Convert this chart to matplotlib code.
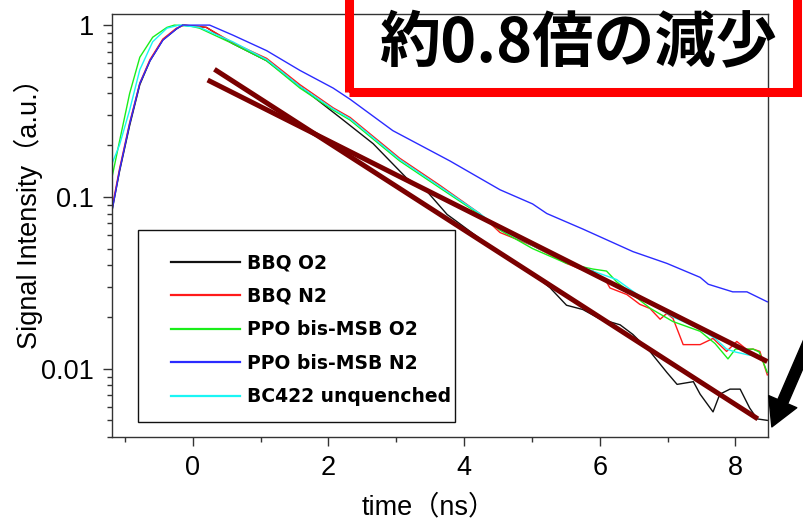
import matplotlib.pyplot as plt
import numpy as np
from matplotlib.patches import Rectangle, FancyArrowPatch
from matplotlib.ticker import LogLocator, NullFormatter

plt.rcParams['font.family'] = ['Liberation Sans', 'Noto Sans CJK JP']

# decay curves (time in ns, intensity normalised)
bbq_o2_t = [-1.19, -1.08, -0.93, -0.78, -0.63, -0.44, -0.24, -0.15, 0.2, 0.59, 1.09, 1.58,
            2.17, 2.66, 3.15, 3.45, 3.75, 3.89, 4.43, 4.72, 5.0, 5.27, 5.51, 5.75, 6.0, 6.3,
            6.49, 6.74, 6.99, 7.14, 7.38, 7.48, 7.67, 7.77, 7.92, 8.07, 8.21, 8.32, 8.47]
bbq_o2_v = [0.083, 0.14, 0.26, 0.45, 0.62, 0.82, 0.95, 1.0, 0.97, 0.78, 0.62, 0.44,
            0.29, 0.204, 0.129, 0.108, 0.079, 0.072, 0.050, 0.042, 0.036, 0.0295, 0.0234, 0.0221, 0.0195, 0.018,
            0.0158, 0.0126, 0.0095, 0.0081, 0.0084, 0.0071, 0.0056, 0.0071, 0.0076, 0.0076, 0.0059, 0.0051, 0.0050]

bbq_n2_t = [-1.19, -1.08, -0.93, -0.78, -0.63, -0.44, -0.24, -0.12, 0.2, 0.59, 1.09, 1.58,
            2.07, 2.32, 3.05, 3.64, 4.23, 4.53, 5.01, 5.27, 5.51, 5.71, 5.9, 6.1, 6.15, 6.4,
            6.59, 6.74, 6.89, 6.99, 7.08, 7.23, 7.48, 7.67, 7.87, 8.02, 8.17, 8.26, 8.36, 8.47]
bbq_n2_v = [0.086, 0.145, 0.27, 0.46, 0.63, 0.83, 0.96, 1.0, 0.97, 0.79, 0.64, 0.45,
            0.33, 0.29, 0.168, 0.117, 0.080, 0.062, 0.052, 0.046, 0.041, 0.038, 0.037, 0.032, 0.0295, 0.027,
            0.0237, 0.0224, 0.0194, 0.021, 0.0196, 0.0138, 0.0138, 0.015, 0.0126, 0.0144, 0.0129, 0.013, 0.0126, 0.0092]

ppo_o2_t = [-1.19, -1.08, -0.93, -0.78, -0.59, -0.38, -0.27, -0.05, 0.1, 0.59, 1.09, 1.58,
            2.07, 2.32, 3.05, 3.64, 4.23, 4.53, 5.01, 5.51, 5.9, 6.1, 6.25, 6.74, 7.08, 7.48,
            7.7, 7.89, 8.0, 8.26, 8.35, 8.47]
ppo_o2_v = [0.13, 0.21, 0.40, 0.65, 0.85, 0.97, 1.0, 0.99, 0.96, 0.78, 0.62, 0.43,
            0.32, 0.28, 0.162, 0.113, 0.079, 0.064, 0.050, 0.041, 0.038, 0.037, 0.032, 0.0225, 0.0188, 0.0165,
            0.014, 0.0114, 0.013, 0.013, 0.0125, 0.0095]

ppo_n2_t = [-1.19, -1.08, -0.93, -0.78, -0.63, -0.44, -0.24, -0.15, 0.25, 0.59, 1.09, 1.58,
            2.07, 2.32, 2.95, 3.79, 4.53, 5.01, 5.22, 5.75, 6.49, 6.99, 7.48, 7.6, 7.96, 8.17, 8.47]
ppo_n2_v = [0.083, 0.142, 0.266, 0.457, 0.62, 0.817, 0.95, 1.0, 1.0, 0.875, 0.71, 0.545,
            0.43, 0.37, 0.243, 0.162, 0.11, 0.091, 0.080, 0.065, 0.048, 0.041, 0.034, 0.031, 0.028, 0.028, 0.0245]

bc422_t = [-1.19, -1.08, -0.93, -0.78, -0.59, -0.38, -0.2, 0.1, 0.59, 1.09, 1.58, 2.07,
           2.32, 3.05, 3.64, 4.23, 4.53, 5.01, 5.51, 5.9, 6.25, 6.5, 6.74, 7.08, 7.48, 7.7,
           7.87, 8.0, 8.2, 8.35]
bc422_v = [0.156, 0.20, 0.32, 0.55, 0.80, 0.96, 1.0, 0.97, 0.80, 0.63, 0.44, 0.325,
           0.285, 0.165, 0.115, 0.080, 0.065, 0.052, 0.042, 0.037, 0.033, 0.028, 0.024, 0.020, 0.017, 0.015,
           0.013, 0.0125, 0.012, 0.0118]

# exponential fits (straight on log axis): start/end points
fit_t = [[0.32, 8.33], [0.22, 8.47]]
fit_v = [[0.553, 0.0051], [0.479, 0.011]]

series = [
    ('BBQ O2', bbq_o2_t, bbq_o2_v, '#111111'),
    ('BBQ N2', bbq_n2_t, bbq_n2_v, '#ff1a1a'),
    ('PPO bis-MSB O2', ppo_o2_t, ppo_o2_v, '#1aee1a'),
    ('PPO bis-MSB N2', ppo_n2_t, ppo_n2_v, '#2b2bff'),
    ('BC422 unquenched', bc422_t, bc422_v, '#1af5f5'),
]

fig = plt.figure(figsize=(8.04, 5.2), dpi=100)
ax = fig.add_axes([0.1393, 0.1596, 0.8159, 0.8134])

draw_order = [0, 1, 2, 4, 3]
lines = {}
for i in draw_order:
    name, t, v, c = series[i]
    lines[i], = ax.plot(t, v, color=c, lw=1.0, label=name)

for t, v in zip(fit_t, fit_v):
    ax.plot(t, v, color='#7a0000', lw=3.6, solid_capstyle='butt', zorder=5)

ax.set_yscale('log')
ax.set_xlim(-1.19, 8.48)
ax.set_ylim(0.004, 1.16)
ax.set_xticks([0, 2, 4, 6, 8])
ax.set_xticks([-1, 1, 3, 5, 7], minor=True)
ax.set_yticks([0.01, 0.1, 1], ['0.01', '0.1', '1'])
ax.yaxis.set_minor_locator(LogLocator(base=10, subs=np.arange(2, 10)))
ax.yaxis.set_minor_formatter(NullFormatter())

for s in ax.spines.values():
    s.set_color('#333333')
    s.set_linewidth(1.0)
ax.tick_params(which='major', length=6.5, width=1.0, color='#333333', labelsize=19.5, pad=6.5)
ax.tick_params(which='minor', length=3.6, width=1.0, color='#333333')

ax.set_xlabel('time（ns）', fontsize=19.5)
ax.xaxis.set_label_coords(0.483, -0.135)
ax.set_ylabel('Signal Intensity（a.u.）', fontsize=19.5)
ax.yaxis.set_label_coords(-0.105, 0.544)

# legend with its own larger frame
ax.add_patch(Rectangle((0.0396, 0.0355), 0.4834, 0.4535, transform=ax.transAxes,
                       fill=False, ec='#111111', lw=1.0, zorder=6))
handles = [lines[i] for i in range(5)]
leg = ax.legend(handles=handles, loc='upper left', bbox_to_anchor=(0.09, 0.434),
                frameon=False, handlelength=3.68, handletextpad=0.37,
                labelspacing=0.77, borderpad=0, borderaxespad=0,
                prop={'family': 'DejaVu Sans', 'weight': 'bold', 'size': 13.5})
for h in leg.get_lines():
    h.set_linewidth(1.6)

# annotation box and arrow
fig.patches.append(Rectangle((0.434, 0.823), 0.557, 0.3, transform=fig.transFigure,
                             fill=False, ec='#ff0000', lw=6.5, clip_on=False))
fig.text(0.719, 0.915, '約0.8倍の減少', ha='center', va='center', fontsize=44,
         fontweight='bold', family=['Noto Sans CJK JP'])
fig.patches.append(FancyArrowPatch((1.012, 0.365), (0.960, 0.179), transform=fig.transFigure,
                                   arrowstyle='simple,head_length=0.9,head_width=1.0,tail_width=0.35',
                                   mutation_scale=22, color='black', shrinkA=0, shrinkB=0))

fig.savefig('out.png', dpi=100, facecolor='white')
